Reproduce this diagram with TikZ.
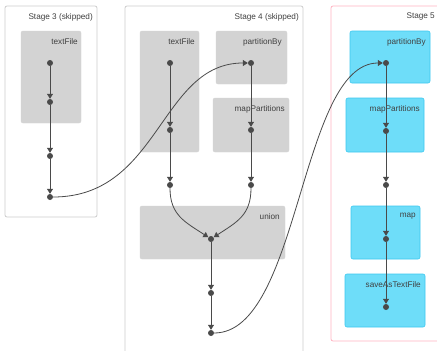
\documentclass[tikz,border=0pt]{standalone}
\usepackage{fontspec}
\setmainfont{Liberation Sans}
\usetikzlibrary{arrows.meta}
\definecolor{stageline}{HTML}{CCCCCC}
\definecolor{activeline}{HTML}{FFB3C1}
\definecolor{opfill}{HTML}{D3D3D3}
\definecolor{cachedfill}{HTML}{6EDDF9}
\definecolor{cachedline}{HTML}{3DC9F0}
\definecolor{edgecol}{HTML}{4A4A4A}
\tikzset{
  stage/.style={draw=stageline,line width=.8pt,rounded corners=2pt,fill=white},
  activestage/.style={stage,draw=activeline},
  opbox/.style={fill=opfill,draw=opfill,rounded corners=2pt},
  cachedbox/.style={fill=cachedfill,draw=cachedline,line width=.6pt,rounded corners=2pt},
  dot/.style={circle,fill=edgecol,inner sep=0pt,minimum size=6pt},
  edge/.style={draw=edgecol,line width=.8pt,-{Triangle[length=5pt,width=6pt]}},
  lbl/.style={anchor=north east,inner sep=0pt,text=black!75,font=\fontsize{8.2}{10}\selectfont}
}
\begin{document}
\begin{tikzpicture}[x=1pt,y=-1pt]
  \path[use as bounding box] (0,0) rectangle (437,351);
  % stages
  \draw[stage] (5,6) rectangle (97,217);
  \draw[stage] (125,6) rectangle (303,360);
  \draw[activestage] (331,6) rectangle (445,341);
  \node[lbl] at (93,13) {Stage 3 (skipped)};
  \node[lbl] at (299,13) {Stage 4 (skipped)};
  \node[lbl] at (435,13) {Stage 5};
  % operation boxes
  \draw[opbox] (21,31) rectangle (81,123);
  \node[lbl] at (78,38) {textFile};
  \draw[opbox] (140,31) rectangle (199,152);
  \node[lbl] at (195,38) {textFile};
  \draw[opbox] (216,31) rectangle (287,84);
  \node[lbl] at (282,38) {partitionBy};
  \draw[opbox] (213,98) rectangle (289,152);
  \node[lbl] at (285,105) {mapPartitions};
  \draw[opbox] (140,206) rectangle (285,259);
  \node[lbl] at (280,213) {union};
  \draw[cachedbox] (350,31) rectangle (430,83);
  \node[lbl] at (426,38) {partitionBy};
  \draw[cachedbox] (346,98) rectangle (424,152);
  \node[lbl] at (420,105) {mapPartitions};
  \draw[cachedbox] (351,206) rectangle (420,259);
  \node[lbl] at (416,213) {map};
  \draw[cachedbox] (345,274) rectangle (425,327);
  \node[lbl] at (421,281) {saveAsTextFile};
  % dots
  \node[dot] (a1) at (50,63) {};
  \node[dot] (a2) at (50,102) {};
  \node[dot] (a3) at (50,156) {};
  \node[dot] (a4) at (50,197) {};
  \node[dot] (b1) at (170,63) {};
  \node[dot] (b2) at (170,130) {};
  \node[dot] (b3) at (170,185) {};
  \node[dot] (c1) at (251,63) {};
  \node[dot] (c2) at (251,130) {};
  \node[dot] (c3) at (251,185) {};
  \node[dot] (u1) at (211,239) {};
  \node[dot] (u2) at (211,293) {};
  \node[dot] (u3) at (211,333) {};
  \node[dot] (d1) at (386,63) {};
  \node[dot] (d2) at (386,131) {};
  \node[dot] (d3) at (386,185) {};
  \node[dot] (d4) at (386,239) {};
  \node[dot] (d5) at (386,307) {};
  % edges
  \draw[edge] (a1)--(a2);
  \draw[edge] (a2)--(a3);
  \draw[edge] (a3)--(a4);
  \draw[edge] (b1)--(b2);
  \draw[edge] (b2)--(b3);
  \draw[edge] (c1)--(c2);
  \draw[edge] (c2)--(c3);
  \draw[edge] (b3) .. controls (170,215) and (185,222) .. (u1);
  \draw[edge] (c3) .. controls (251,215) and (237,222) .. (u1);
  \draw[edge] (u1)--(u2);
  \draw[edge] (u2)--(u3);
  \draw[edge] (d1)--(d2);
  \draw[edge] (d2)--(d3);
  \draw[edge] (d3)--(d4);
  \draw[edge] (d4)--(d5);
  \draw[edge] (a4.east) .. controls (160,197) and (160,63) .. (c1.west);
  \draw[edge] (u3.east) .. controls (300,333) and (300,63) .. (d1.west);
\end{tikzpicture}
\end{document}
